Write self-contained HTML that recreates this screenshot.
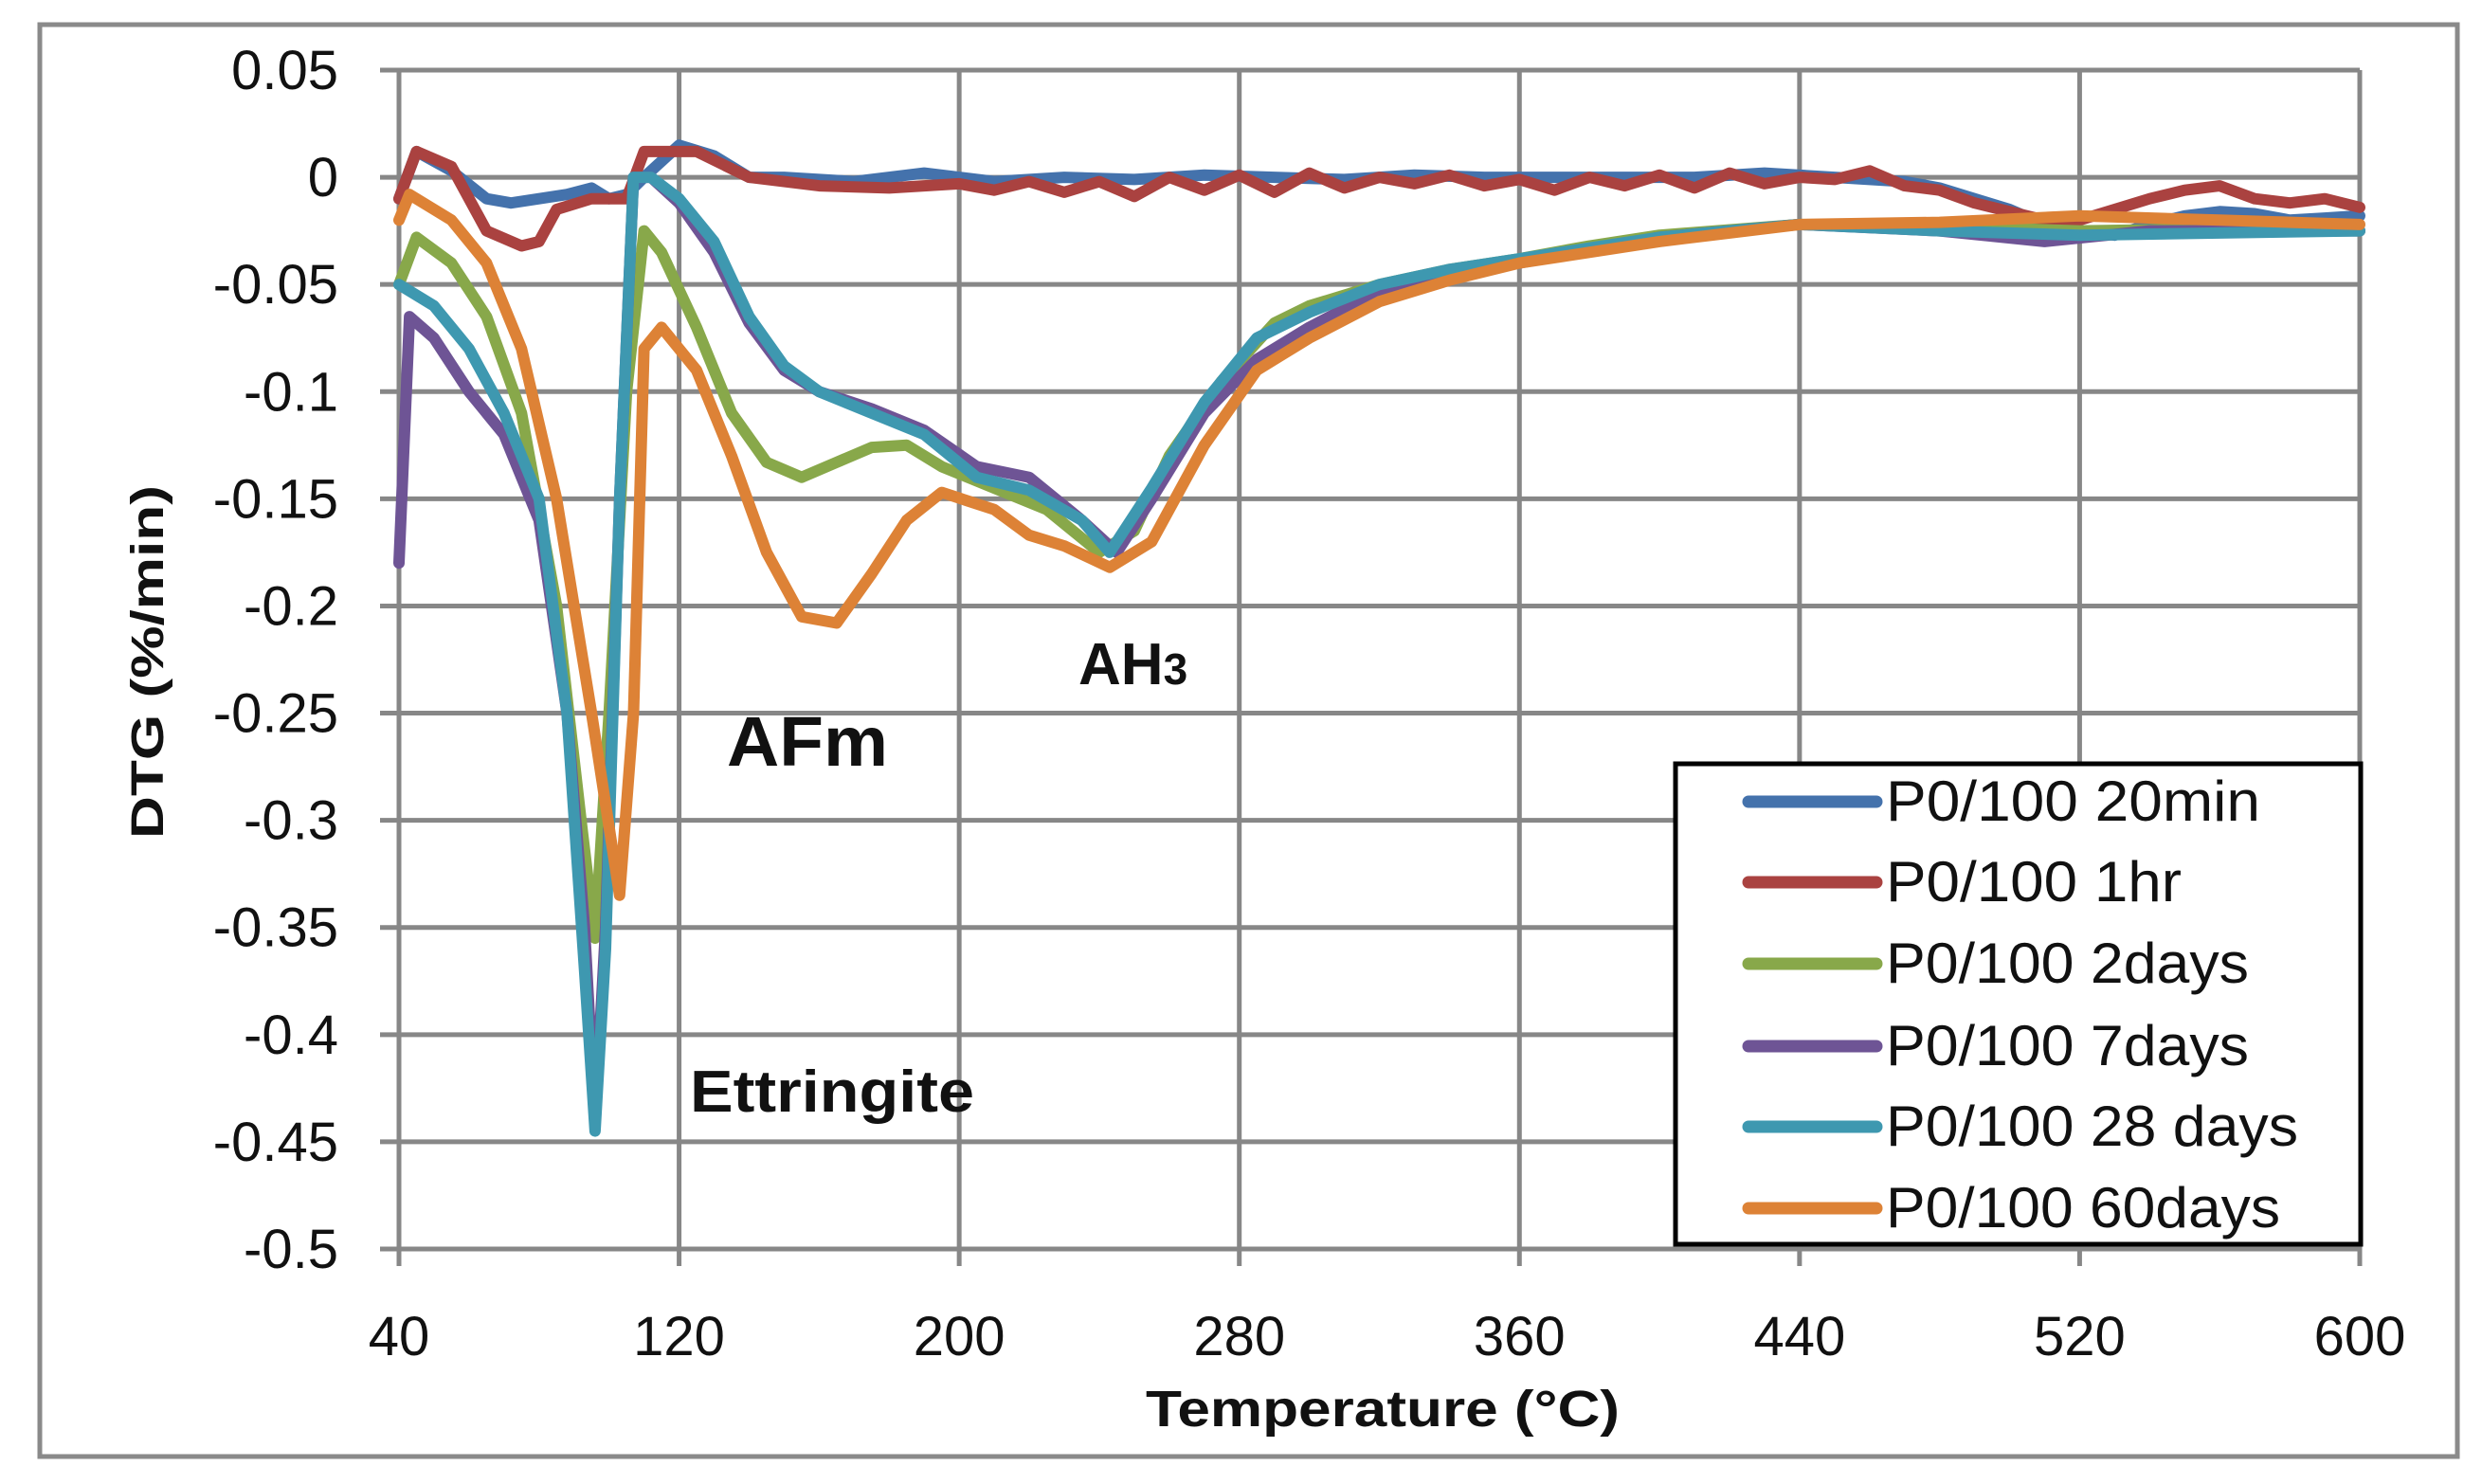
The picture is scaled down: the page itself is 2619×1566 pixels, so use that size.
<!DOCTYPE html>
<html><head><meta charset="utf-8"><style>
html,body{margin:0;padding:0;background:#fff;}
svg{display:block;}
text{font-family:"Liberation Sans Narrow","Liberation Sans",sans-serif;fill:#111;}
.b{font-family:"Liberation Sans",sans-serif;font-weight:bold;}
</style></head><body>
<svg id="chart" width="2619" height="1566" viewBox="0 0 2619 1566" xmlns="http://www.w3.org/2000/svg">
<rect x="0" y="0" width="2619" height="1566" fill="#fff"/>
<rect x="42" y="26" width="2551" height="1511" fill="none" stroke="#8a8a8a" stroke-width="5"/>
<g id="grid"></g>
<g id="series"></g>
<g id="ticks"></g>
<text class="b" x="1209" y="1505" font-size="54" textLength="500" lengthAdjust="spacingAndGlyphs">Temperature (°C)</text>
<text class="b" transform="translate(172,885) rotate(-90)" font-size="48" textLength="373" lengthAdjust="spacingAndGlyphs">DTG (%/min)</text>
<text class="b" x="767" y="808" font-size="74" textLength="170" lengthAdjust="spacingAndGlyphs">AFm</text>
<text class="b" x="1138" y="722" font-size="62">AH<tspan font-size="46">3</tspan></text>
<text class="b" x="728" y="1173" font-size="62" textLength="300" lengthAdjust="spacingAndGlyphs">Ettringite</text>
<g id="legend"></g>
</svg>
<script>
const xTicks=[40,120,200,280,360,440,520,600];
const yTicks=[0.05,0,-0.05,-0.1,-0.15,-0.2,-0.25,-0.3,-0.35,-0.4,-0.45,-0.5];
const yTickLabels=["0.05","0","-0.05","-0.1","-0.15","-0.2","-0.25","-0.3","-0.35","-0.4","-0.45","-0.5"];
const seriesNames=["P0/100 20min","P0/100 1hr","P0/100 2days","P0/100 7days","P0/100 28 days","P0/100 60days"];
const seriesColors=["#4472ac","#aa4240","#88a84a","#6e5495","#3e98b0","#dd8236"];
const t20min=[40,45,55,65,72,80,88,95,100,105,110,120,130,140,150,170,190,210,230,250,270,290,310,330,350,370,390,410,430,450,470,480,490,500,510,520,530,540,550,560,570,580,590,600];
const v20min=[-0.01,0.012,0.003,-0.01,-0.012,-0.01,-0.008,-0.005,-0.01,-0.008,0.0,0.015,0.01,0.0,0.0,-0.002,0.002,-0.002,0.0,-0.001,0.001,0.0,-0.001,0.001,0.0,0.0,0.0,0.0,0.002,0.0,-0.002,-0.005,-0.01,-0.015,-0.022,-0.025,-0.027,-0.022,-0.018,-0.016,-0.017,-0.02,-0.019,-0.018];
const t1hr=[40,45,55,65,75,80,85,95,105,110,125,140,160,180,200,210,220,230,240,250,260,270,280,290,300,310,320,330,340,350,360,370,380,390,400,410,420,430,440,450,460,470,480,490,500,510,520,530,540,550,560,570,580,590,600];
const v1hr=[-0.01,0.012,0.005,-0.025,-0.032,-0.03,-0.015,-0.01,-0.01,0.012,0.012,0.0,-0.004,-0.005,-0.003,-0.006,-0.002,-0.007,-0.002,-0.009,0.0,-0.006,0.001,-0.007,0.002,-0.005,0.0,-0.003,0.001,-0.004,-0.001,-0.006,0.0,-0.004,0.001,-0.005,0.002,-0.003,0.0,-0.001,0.003,-0.004,-0.006,-0.012,-0.016,-0.02,-0.02,-0.015,-0.01,-0.006,-0.004,-0.01,-0.012,-0.01,-0.014];
const t2days=[40,45,55,65,75,85,92,96,100,105,110,115,125,135,145,155,165,175,185,195,210,225,240,250,260,275,290,300,320,340,360,380,400,440,480,520,560,600];
const v2days=[-0.05,-0.028,-0.04,-0.065,-0.11,-0.2,-0.3,-0.355,-0.25,-0.1,-0.025,-0.035,-0.07,-0.11,-0.133,-0.14,-0.133,-0.126,-0.125,-0.135,-0.145,-0.155,-0.175,-0.165,-0.13,-0.095,-0.068,-0.06,-0.05,-0.043,-0.038,-0.032,-0.027,-0.022,-0.023,-0.025,-0.024,-0.025];
const t7days=[40,43,50,60,70,80,88,93,96,99,103,107,112,120,130,140,150,160,175,190,205,220,235,245,255,270,285,300,320,340,360,400,440,480,510,540,600];
const v7days=[-0.18,-0.065,-0.075,-0.1,-0.12,-0.16,-0.25,-0.35,-0.44,-0.35,-0.15,0.0,0.0,-0.012,-0.035,-0.068,-0.09,-0.1,-0.108,-0.118,-0.135,-0.14,-0.16,-0.175,-0.15,-0.11,-0.085,-0.07,-0.053,-0.045,-0.04,-0.028,-0.022,-0.025,-0.03,-0.025,-0.025];
const t28days=[40,50,60,70,80,88,93,96,99,103,107,112,120,130,140,150,160,175,190,205,220,235,243,255,270,285,300,320,340,360,400,440,480,520,600];
const v28days=[-0.05,-0.06,-0.08,-0.11,-0.15,-0.25,-0.37,-0.445,-0.36,-0.15,0.0,0.0,-0.01,-0.03,-0.065,-0.088,-0.1,-0.11,-0.12,-0.14,-0.146,-0.16,-0.175,-0.145,-0.105,-0.075,-0.063,-0.05,-0.043,-0.038,-0.028,-0.022,-0.025,-0.027,-0.025];
const t60days=[40,43,55,65,75,85,95,103,107,110,115,125,135,145,155,165,175,185,195,210,220,230,243,255,270,285,300,320,340,360,400,440,480,520,560,600];
const v60days=[-0.02,-0.008,-0.02,-0.04,-0.08,-0.15,-0.25,-0.335,-0.25,-0.08,-0.07,-0.09,-0.13,-0.175,-0.205,-0.208,-0.185,-0.16,-0.147,-0.155,-0.167,-0.172,-0.182,-0.17,-0.125,-0.09,-0.075,-0.058,-0.048,-0.04,-0.03,-0.022,-0.021,-0.018,-0.02,-0.022];
const seriesT=[t20min,t1hr,t2days,t7days,t28days,t60days];
const seriesV=[v20min,v1hr,v2days,v7days,v28days,v60days];

const NS="http://www.w3.org/2000/svg";
const X0=421,X1=2490,Y0=74,Y1=1318;
function xs(t){return X0+(t-40)*(X1-X0)/560;}
function ys(v){return Y0+(0.05-v)*(Y1-Y0)/0.55;}
function mk(tag,attrs,parent){const e=document.createElementNS(NS,tag);for(const k in attrs)e.setAttribute(k,attrs[k]);parent.appendChild(e);return e;}
const grid=document.getElementById('grid'),ticks=document.getElementById('ticks'),ser=document.getElementById('series'),leg=document.getElementById('legend');
yTicks.forEach((v,i)=>{
  const l=mk('line',{x1:X0-20,x2:X1,y1:ys(v),y2:ys(v),stroke:'#878787','stroke-width':5},grid);
  
  
  const t=mk('text',{x:357,y:ys(v)+20,'text-anchor':'end','font-size':58},ticks);
  t.textContent=yTickLabels[i];
  
  
});
xTicks.forEach(v=>{
  const l=mk('line',{x1:xs(v),x2:xs(v),y1:Y0,y2:Y1+18,stroke:'#878787','stroke-width':5},grid);
  
  
  const t=mk('text',{x:xs(v),y:1430,'text-anchor':'middle','font-size':58},ticks);
  t.textContent=String(v);
  
  
});
seriesT.forEach((T,i)=>{
  const V=seriesV[i];
  const d=T.map((t,j)=>(j?'L':'M')+xs(t).toFixed(1)+','+ys(V[j]).toFixed(1)).join(' ');
  const p=mk('path',{d:d,fill:'none',stroke:seriesColors[i],'stroke-width':12,'stroke-linejoin':'round','stroke-linecap':'round'},ser);
  
  
});
const lb=mk('rect',{x:1768,y:806,width:723,height:507,fill:'#fff',stroke:'#000','stroke-width':5},leg);


const rowY=[846,931,1017,1104,1189,1275];
const textLen=[395,312,383,383,435,416];
seriesNames.forEach((n,i)=>{
  const l=mk('line',{x1:1845,x2:1980,y1:rowY[i],y2:rowY[i],stroke:seriesColors[i],'stroke-width':13,'stroke-linecap':'round'},leg);
  
  
  const t=mk('text',{x:1990,y:rowY[i]+20,'font-size':60,textLength:textLen[i],lengthAdjust:'spacingAndGlyphs'},leg);
  t.textContent=n;
  
  
});
</script>
</body></html>
